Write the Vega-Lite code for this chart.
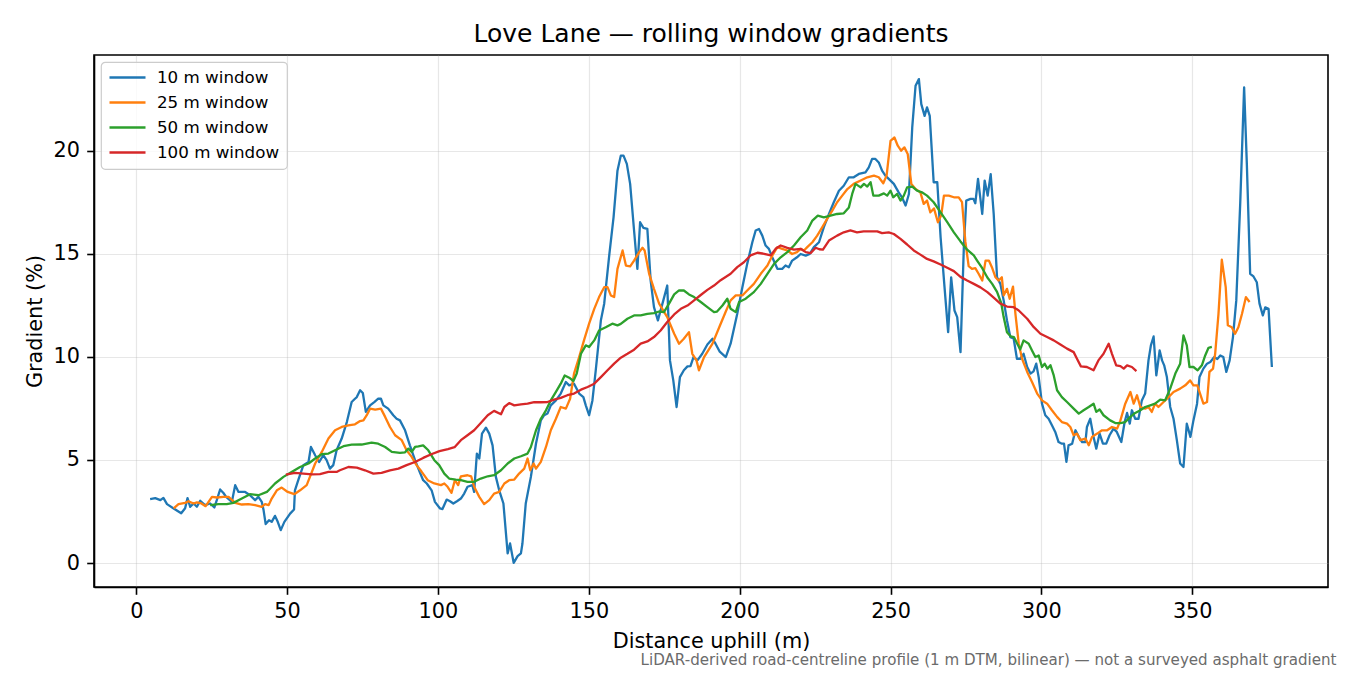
{
"$schema": "https://vega.github.io/schema/vega-lite/v6.json",
"autosize": {"type": "none"},
"width": 1234,
"height": 532,
"padding": {"left": 94, "top": 55, "right": 22, "bottom": 88},
"background": "white",
"title": {"text": "Love Lane — rolling window gradients", "font": "DejaVu Sans", "fontSize": 25, "fontWeight": "normal", "color": "black", "anchor": "middle", "frame": "group", "baseline": "alphabetic", "offset": -12},
"data": {"values": [
{"d":4.6,"g":3.1,"w":"10 m window"},{"d":6.3,"g":3.15,"w":"10 m window"},{"d":8.0,"g":3.05,"w":"10 m window"},{"d":9.0,"g":3.16,"w":"10 m window"},{"d":10.2,"g":2.86,"w":"10 m window"},{"d":12.4,"g":2.65,"w":"10 m window"},{"d":14.9,"g":2.42,"w":"10 m window"},{"d":16.2,"g":2.66,"w":"10 m window"},{"d":17.0,"g":3.15,"w":"10 m window"},{"d":17.9,"g":2.73,"w":"10 m window"},{"d":19.0,"g":2.89,"w":"10 m window"},{"d":20.1,"g":2.73,"w":"10 m window"},{"d":21.2,"g":3.02,"w":"10 m window"},{"d":22.8,"g":2.81,"w":"10 m window"},{"d":24.5,"g":2.89,"w":"10 m window"},{"d":25.9,"g":2.7,"w":"10 m window"},{"d":26.7,"g":3.05,"w":"10 m window"},{"d":27.8,"g":3.57,"w":"10 m window"},{"d":28.9,"g":3.4,"w":"10 m window"},{"d":29.8,"g":3.21,"w":"10 m window"},{"d":31.7,"g":2.97,"w":"10 m window"},{"d":32.8,"g":3.78,"w":"10 m window"},{"d":33.9,"g":3.45,"w":"10 m window"},{"d":36.1,"g":3.45,"w":"10 m window"},{"d":37.7,"g":3.29,"w":"10 m window"},{"d":39.4,"g":3.05,"w":"10 m window"},{"d":40.5,"g":3.21,"w":"10 m window"},{"d":41.6,"g":2.97,"w":"10 m window"},{"d":42.2,"g":2.57,"w":"10 m window"},{"d":42.9,"g":1.89,"w":"10 m window"},{"d":44.0,"g":2.08,"w":"10 m window"},{"d":44.9,"g":2.0,"w":"10 m window"},{"d":46.0,"g":2.29,"w":"10 m window"},{"d":46.9,"g":2.0,"w":"10 m window"},{"d":47.9,"g":1.6,"w":"10 m window"},{"d":49.1,"g":2.0,"w":"10 m window"},{"d":51.0,"g":2.4,"w":"10 m window"},{"d":52.3,"g":2.6,"w":"10 m window"},{"d":52.6,"g":3.53,"w":"10 m window"},{"d":53.7,"g":4.02,"w":"10 m window"},{"d":55.4,"g":4.75,"w":"10 m window"},{"d":57.1,"g":4.9,"w":"10 m window"},{"d":57.9,"g":5.63,"w":"10 m window"},{"d":59.3,"g":5.23,"w":"10 m window"},{"d":60.6,"g":4.9,"w":"10 m window"},{"d":62.0,"g":5.23,"w":"10 m window"},{"d":63.1,"g":4.99,"w":"10 m window"},{"d":64.2,"g":4.58,"w":"10 m window"},{"d":65.3,"g":4.75,"w":"10 m window"},{"d":66.4,"g":5.47,"w":"10 m window"},{"d":68.1,"g":6.04,"w":"10 m window"},{"d":69.8,"g":6.84,"w":"10 m window"},{"d":71.4,"g":7.81,"w":"10 m window"},{"d":72.5,"g":7.97,"w":"10 m window"},{"d":73.1,"g":8.05,"w":"10 m window"},{"d":74.2,"g":8.38,"w":"10 m window"},{"d":75.1,"g":8.25,"w":"10 m window"},{"d":76.1,"g":7.33,"w":"10 m window"},{"d":77.5,"g":7.65,"w":"10 m window"},{"d":78.9,"g":7.81,"w":"10 m window"},{"d":80.2,"g":7.97,"w":"10 m window"},{"d":81.1,"g":7.97,"w":"10 m window"},{"d":81.9,"g":7.65,"w":"10 m window"},{"d":83.5,"g":7.49,"w":"10 m window"},{"d":85.2,"g":7.17,"w":"10 m window"},{"d":86.3,"g":7.0,"w":"10 m window"},{"d":87.4,"g":6.92,"w":"10 m window"},{"d":89.1,"g":6.44,"w":"10 m window"},{"d":90.7,"g":5.71,"w":"10 m window"},{"d":92.4,"g":4.99,"w":"10 m window"},{"d":94.0,"g":4.4,"w":"10 m window"},{"d":95.1,"g":4.02,"w":"10 m window"},{"d":96.3,"g":3.86,"w":"10 m window"},{"d":97.9,"g":3.53,"w":"10 m window"},{"d":99.0,"g":2.97,"w":"10 m window"},{"d":100.7,"g":2.65,"w":"10 m window"},{"d":101.5,"g":2.62,"w":"10 m window"},{"d":102.9,"g":3.08,"w":"10 m window"},{"d":104.0,"g":3.0,"w":"10 m window"},{"d":105.1,"g":2.89,"w":"10 m window"},{"d":106.3,"g":3.0,"w":"10 m window"},{"d":107.6,"g":3.13,"w":"10 m window"},{"d":108.7,"g":3.37,"w":"10 m window"},{"d":109.8,"g":3.7,"w":"10 m window"},{"d":111.4,"g":3.78,"w":"10 m window"},{"d":112.0,"g":3.45,"w":"10 m window"},{"d":112.9,"g":5.31,"w":"10 m window"},{"d":113.7,"g":5.07,"w":"10 m window"},{"d":114.6,"g":6.28,"w":"10 m window"},{"d":115.9,"g":6.57,"w":"10 m window"},{"d":117.0,"g":6.28,"w":"10 m window"},{"d":118.1,"g":5.71,"w":"10 m window"},{"d":119.2,"g":4.18,"w":"10 m window"},{"d":120.3,"g":3.53,"w":"10 m window"},{"d":121.7,"g":2.89,"w":"10 m window"},{"d":123.1,"g":0.47,"w":"10 m window"},{"d":123.9,"g":0.95,"w":"10 m window"},{"d":125.1,"g":0.01,"w":"10 m window"},{"d":126.4,"g":0.34,"w":"10 m window"},{"d":127.5,"g":0.47,"w":"10 m window"},{"d":128.0,"g":0.95,"w":"10 m window"},{"d":129.1,"g":2.89,"w":"10 m window"},{"d":130.8,"g":4.18,"w":"10 m window"},{"d":132.5,"g":5.8,"w":"10 m window"},{"d":134.1,"g":6.92,"w":"10 m window"},{"d":135.2,"g":7.17,"w":"10 m window"},{"d":136.3,"g":7.25,"w":"10 m window"},{"d":137.4,"g":7.65,"w":"10 m window"},{"d":139.1,"g":7.89,"w":"10 m window"},{"d":140.7,"g":8.22,"w":"10 m window"},{"d":142.4,"g":8.78,"w":"10 m window"},{"d":143.5,"g":8.62,"w":"10 m window"},{"d":145.1,"g":8.7,"w":"10 m window"},{"d":146.8,"g":8.22,"w":"10 m window"},{"d":148.2,"g":8.05,"w":"10 m window"},{"d":149.0,"g":7.65,"w":"10 m window"},{"d":150.1,"g":7.17,"w":"10 m window"},{"d":151.2,"g":7.89,"w":"10 m window"},{"d":152.3,"g":9.35,"w":"10 m window"},{"d":154.0,"g":11.77,"w":"10 m window"},{"d":155.1,"g":12.58,"w":"10 m window"},{"d":156.7,"g":14.83,"w":"10 m window"},{"d":158.2,"g":16.77,"w":"10 m window"},{"d":159.5,"g":19.03,"w":"10 m window"},{"d":160.6,"g":19.76,"w":"10 m window"},{"d":161.5,"g":19.76,"w":"10 m window"},{"d":162.6,"g":19.36,"w":"10 m window"},{"d":163.7,"g":18.39,"w":"10 m window"},{"d":165.0,"g":16.13,"w":"10 m window"},{"d":166.1,"g":14.27,"w":"10 m window"},{"d":167.0,"g":16.53,"w":"10 m window"},{"d":168.1,"g":16.26,"w":"10 m window"},{"d":169.4,"g":16.21,"w":"10 m window"},{"d":170.5,"g":13.7,"w":"10 m window"},{"d":171.6,"g":12.41,"w":"10 m window"},{"d":172.9,"g":11.77,"w":"10 m window"},{"d":174.7,"g":12.74,"w":"10 m window"},{"d":176.0,"g":13.46,"w":"10 m window"},{"d":176.9,"g":9.83,"w":"10 m window"},{"d":178.0,"g":8.86,"w":"10 m window"},{"d":179.1,"g":7.57,"w":"10 m window"},{"d":180.2,"g":9.02,"w":"10 m window"},{"d":181.5,"g":9.35,"w":"10 m window"},{"d":182.7,"g":9.54,"w":"10 m window"},{"d":183.7,"g":9.55,"w":"10 m window"},{"d":184.7,"g":9.99,"w":"10 m window"},{"d":186.0,"g":9.83,"w":"10 m window"},{"d":187.6,"g":10.15,"w":"10 m window"},{"d":189.3,"g":10.6,"w":"10 m window"},{"d":191.0,"g":10.88,"w":"10 m window"},{"d":192.0,"g":10.64,"w":"10 m window"},{"d":193.4,"g":10.25,"w":"10 m window"},{"d":195.4,"g":9.99,"w":"10 m window"},{"d":197.0,"g":10.64,"w":"10 m window"},{"d":199.2,"g":12.09,"w":"10 m window"},{"d":200.9,"g":13.38,"w":"10 m window"},{"d":202.5,"g":14.51,"w":"10 m window"},{"d":204.2,"g":15.56,"w":"10 m window"},{"d":205.3,"g":16.13,"w":"10 m window"},{"d":206.4,"g":16.2,"w":"10 m window"},{"d":207.5,"g":15.88,"w":"10 m window"},{"d":208.6,"g":15.4,"w":"10 m window"},{"d":209.7,"g":15.24,"w":"10 m window"},{"d":210.8,"g":14.83,"w":"10 m window"},{"d":212.5,"g":14.27,"w":"10 m window"},{"d":214.1,"g":14.27,"w":"10 m window"},{"d":215.2,"g":14.43,"w":"10 m window"},{"d":216.3,"g":14.35,"w":"10 m window"},{"d":217.4,"g":14.67,"w":"10 m window"},{"d":219.0,"g":14.83,"w":"10 m window"},{"d":220.2,"g":14.99,"w":"10 m window"},{"d":221.9,"g":14.91,"w":"10 m window"},{"d":223.2,"g":14.99,"w":"10 m window"},{"d":224.6,"g":15.32,"w":"10 m window"},{"d":226.3,"g":15.56,"w":"10 m window"},{"d":227.9,"g":16.29,"w":"10 m window"},{"d":229.6,"g":16.93,"w":"10 m window"},{"d":231.2,"g":17.5,"w":"10 m window"},{"d":232.9,"g":18.06,"w":"10 m window"},{"d":234.5,"g":18.3,"w":"10 m window"},{"d":236.2,"g":18.71,"w":"10 m window"},{"d":237.8,"g":18.71,"w":"10 m window"},{"d":239.5,"g":18.87,"w":"10 m window"},{"d":241.7,"g":18.95,"w":"10 m window"},{"d":242.8,"g":19.19,"w":"10 m window"},{"d":243.9,"g":19.6,"w":"10 m window"},{"d":245.0,"g":19.6,"w":"10 m window"},{"d":246.1,"g":19.43,"w":"10 m window"},{"d":247.2,"g":19.03,"w":"10 m window"},{"d":248.3,"g":18.79,"w":"10 m window"},{"d":250.0,"g":18.55,"w":"10 m window"},{"d":251.1,"g":18.39,"w":"10 m window"},{"d":252.7,"g":17.98,"w":"10 m window"},{"d":253.8,"g":17.74,"w":"10 m window"},{"d":255.0,"g":17.34,"w":"10 m window"},{"d":256.1,"g":17.9,"w":"10 m window"},{"d":257.2,"g":21.13,"w":"10 m window"},{"d":258.3,"g":23.15,"w":"10 m window"},{"d":259.4,"g":23.47,"w":"10 m window"},{"d":260.2,"g":22.26,"w":"10 m window"},{"d":261.3,"g":21.69,"w":"10 m window"},{"d":262.1,"g":22.1,"w":"10 m window"},{"d":263.0,"g":21.69,"w":"10 m window"},{"d":264.3,"g":18.47,"w":"10 m window"},{"d":265.5,"g":18.47,"w":"10 m window"},{"d":266.6,"g":15.8,"w":"10 m window"},{"d":267.9,"g":13.38,"w":"10 m window"},{"d":269.1,"g":11.2,"w":"10 m window"},{"d":270.1,"g":13.86,"w":"10 m window"},{"d":271.2,"g":12.25,"w":"10 m window"},{"d":272.1,"g":11.93,"w":"10 m window"},{"d":273.2,"g":10.23,"w":"10 m window"},{"d":274.3,"g":15.32,"w":"10 m window"},{"d":275.1,"g":17.58,"w":"10 m window"},{"d":276.5,"g":17.66,"w":"10 m window"},{"d":277.5,"g":17.66,"w":"10 m window"},{"d":278.1,"g":17.45,"w":"10 m window"},{"d":279.0,"g":18.63,"w":"10 m window"},{"d":280.4,"g":16.93,"w":"10 m window"},{"d":281.2,"g":18.55,"w":"10 m window"},{"d":282.2,"g":17.82,"w":"10 m window"},{"d":283.2,"g":18.86,"w":"10 m window"},{"d":284.2,"g":16.93,"w":"10 m window"},{"d":285.3,"g":13.86,"w":"10 m window"},{"d":286.4,"g":13.54,"w":"10 m window"},{"d":287.5,"g":12.74,"w":"10 m window"},{"d":288.6,"g":11.77,"w":"10 m window"},{"d":289.7,"g":10.96,"w":"10 m window"},{"d":290.8,"g":10.9,"w":"10 m window"},{"d":291.9,"g":9.91,"w":"10 m window"},{"d":293.0,"g":9.91,"w":"10 m window"},{"d":294.1,"g":10.15,"w":"10 m window"},{"d":295.3,"g":9.51,"w":"10 m window"},{"d":296.4,"g":9.19,"w":"10 m window"},{"d":297.4,"g":9.3,"w":"10 m window"},{"d":298.3,"g":9.67,"w":"10 m window"},{"d":299.1,"g":9.02,"w":"10 m window"},{"d":300.2,"g":7.73,"w":"10 m window"},{"d":301.3,"g":7.17,"w":"10 m window"},{"d":302.4,"g":7.0,"w":"10 m window"},{"d":303.5,"g":6.68,"w":"10 m window"},{"d":304.6,"g":6.36,"w":"10 m window"},{"d":305.7,"g":5.87,"w":"10 m window"},{"d":306.8,"g":5.79,"w":"10 m window"},{"d":307.5,"g":5.79,"w":"10 m window"},{"d":308.3,"g":4.91,"w":"10 m window"},{"d":309.0,"g":5.71,"w":"10 m window"},{"d":310.2,"g":5.79,"w":"10 m window"},{"d":311.3,"g":6.44,"w":"10 m window"},{"d":312.4,"g":6.12,"w":"10 m window"},{"d":313.5,"g":5.87,"w":"10 m window"},{"d":314.6,"g":5.87,"w":"10 m window"},{"d":315.1,"g":6.6,"w":"10 m window"},{"d":316.2,"g":7.0,"w":"10 m window"},{"d":317.3,"g":6.12,"w":"10 m window"},{"d":318.2,"g":5.55,"w":"10 m window"},{"d":319.3,"g":6.28,"w":"10 m window"},{"d":320.4,"g":5.79,"w":"10 m window"},{"d":321.5,"g":5.79,"w":"10 m window"},{"d":322.6,"g":6.2,"w":"10 m window"},{"d":323.9,"g":6.52,"w":"10 m window"},{"d":325.0,"g":6.36,"w":"10 m window"},{"d":326.5,"g":5.87,"w":"10 m window"},{"d":327.6,"g":6.84,"w":"10 m window"},{"d":328.4,"g":7.28,"w":"10 m window"},{"d":329.3,"g":6.76,"w":"10 m window"},{"d":330.0,"g":7.41,"w":"10 m window"},{"d":331.1,"g":7.0,"w":"10 m window"},{"d":332.2,"g":7.0,"w":"10 m window"},{"d":333.3,"g":7.89,"w":"10 m window"},{"d":334.4,"g":8.22,"w":"10 m window"},{"d":335.5,"g":9.83,"w":"10 m window"},{"d":336.3,"g":10.56,"w":"10 m window"},{"d":337.2,"g":10.99,"w":"10 m window"},{"d":338.1,"g":9.1,"w":"10 m window"},{"d":339.2,"g":10.31,"w":"10 m window"},{"d":340.0,"g":9.83,"w":"10 m window"},{"d":340.7,"g":9.59,"w":"10 m window"},{"d":341.6,"g":9.02,"w":"10 m window"},{"d":342.7,"g":7.57,"w":"10 m window"},{"d":343.8,"g":7.0,"w":"10 m window"},{"d":344.9,"g":5.96,"w":"10 m window"},{"d":346.0,"g":4.83,"w":"10 m window"},{"d":347.1,"g":4.66,"w":"10 m window"},{"d":348.2,"g":6.76,"w":"10 m window"},{"d":349.4,"g":6.12,"w":"10 m window"},{"d":350.4,"g":6.92,"w":"10 m window"},{"d":351.6,"g":7.73,"w":"10 m window"},{"d":352.4,"g":9.02,"w":"10 m window"},{"d":353.7,"g":9.43,"w":"10 m window"},{"d":354.9,"g":9.67,"w":"10 m window"},{"d":356.0,"g":9.75,"w":"10 m window"},{"d":357.3,"g":9.99,"w":"10 m window"},{"d":358.3,"g":9.9,"w":"10 m window"},{"d":359.3,"g":10.07,"w":"10 m window"},{"d":360.3,"g":9.99,"w":"10 m window"},{"d":361.3,"g":9.27,"w":"10 m window"},{"d":362.4,"g":9.83,"w":"10 m window"},{"d":363.5,"g":10.96,"w":"10 m window"},{"d":364.6,"g":12.74,"w":"10 m window"},{"d":365.9,"g":17.42,"w":"10 m window"},{"d":367.2,"g":23.07,"w":"10 m window"},{"d":368.1,"g":19.36,"w":"10 m window"},{"d":369.2,"g":14.03,"w":"10 m window"},{"d":370.3,"g":13.9,"w":"10 m window"},{"d":371.4,"g":13.62,"w":"10 m window"},{"d":372.3,"g":12.58,"w":"10 m window"},{"d":373.4,"g":12.01,"w":"10 m window"},{"d":374.2,"g":12.4,"w":"10 m window"},{"d":375.3,"g":12.33,"w":"10 m window"},{"d":376.4,"g":9.51,"w":"10 m window"},
{"d":12.4,"g":2.65,"w":"25 m window"},{"d":14.0,"g":2.86,"w":"25 m window"},{"d":16.2,"g":2.92,"w":"25 m window"},{"d":17.3,"g":3.0,"w":"25 m window"},{"d":19.0,"g":2.89,"w":"25 m window"},{"d":20.1,"g":2.94,"w":"25 m window"},{"d":21.6,"g":2.89,"w":"25 m window"},{"d":23.0,"g":2.76,"w":"25 m window"},{"d":25.1,"g":3.21,"w":"25 m window"},{"d":26.7,"g":3.18,"w":"25 m window"},{"d":28.9,"g":3.21,"w":"25 m window"},{"d":30.6,"g":3.21,"w":"25 m window"},{"d":32.8,"g":2.92,"w":"25 m window"},{"d":35.0,"g":2.84,"w":"25 m window"},{"d":37.2,"g":2.86,"w":"25 m window"},{"d":39.4,"g":2.81,"w":"25 m window"},{"d":41.6,"g":2.73,"w":"25 m window"},{"d":42.7,"g":2.86,"w":"25 m window"},{"d":43.9,"g":2.81,"w":"25 m window"},{"d":44.9,"g":3.13,"w":"25 m window"},{"d":46.6,"g":3.53,"w":"25 m window"},{"d":48.2,"g":3.66,"w":"25 m window"},{"d":50.2,"g":3.45,"w":"25 m window"},{"d":52.4,"g":3.34,"w":"25 m window"},{"d":54.3,"g":3.53,"w":"25 m window"},{"d":56.5,"g":3.78,"w":"25 m window"},{"d":59.3,"g":4.83,"w":"25 m window"},{"d":61.5,"g":5.39,"w":"25 m window"},{"d":63.7,"g":6.04,"w":"25 m window"},{"d":65.9,"g":6.44,"w":"25 m window"},{"d":68.1,"g":6.6,"w":"25 m window"},{"d":70.3,"g":6.68,"w":"25 m window"},{"d":72.5,"g":6.73,"w":"25 m window"},{"d":74.2,"g":6.89,"w":"25 m window"},{"d":75.3,"g":6.92,"w":"25 m window"},{"d":76.4,"g":7.17,"w":"25 m window"},{"d":77.5,"g":7.49,"w":"25 m window"},{"d":79.2,"g":7.44,"w":"25 m window"},{"d":81.1,"g":7.49,"w":"25 m window"},{"d":82.5,"g":7.09,"w":"25 m window"},{"d":84.1,"g":6.6,"w":"25 m window"},{"d":85.8,"g":6.2,"w":"25 m window"},{"d":88.0,"g":5.96,"w":"25 m window"},{"d":89.6,"g":5.47,"w":"25 m window"},{"d":91.3,"g":5.15,"w":"25 m window"},{"d":92.9,"g":4.75,"w":"25 m window"},{"d":94.5,"g":4.45,"w":"25 m window"},{"d":96.6,"g":4.02,"w":"25 m window"},{"d":98.8,"g":3.86,"w":"25 m window"},{"d":101.0,"g":3.78,"w":"25 m window"},{"d":102.1,"g":3.86,"w":"25 m window"},{"d":103.2,"g":3.7,"w":"25 m window"},{"d":104.5,"g":3.41,"w":"25 m window"},{"d":105.6,"g":4.02,"w":"25 m window"},{"d":106.7,"g":3.78,"w":"25 m window"},{"d":107.6,"g":4.21,"w":"25 m window"},{"d":109.8,"g":4.26,"w":"25 m window"},{"d":111.0,"g":4.21,"w":"25 m window"},{"d":112.0,"g":3.7,"w":"25 m window"},{"d":113.7,"g":3.21,"w":"25 m window"},{"d":115.3,"g":2.86,"w":"25 m window"},{"d":117.0,"g":3.05,"w":"25 m window"},{"d":118.6,"g":3.37,"w":"25 m window"},{"d":120.3,"g":3.45,"w":"25 m window"},{"d":122.0,"g":3.86,"w":"25 m window"},{"d":123.6,"g":4.02,"w":"25 m window"},{"d":125.3,"g":4.05,"w":"25 m window"},{"d":126.9,"g":4.34,"w":"25 m window"},{"d":128.6,"g":4.58,"w":"25 m window"},{"d":129.7,"g":5.07,"w":"25 m window"},{"d":130.6,"g":4.5,"w":"25 m window"},{"d":131.7,"g":4.83,"w":"25 m window"},{"d":132.5,"g":4.58,"w":"25 m window"},{"d":134.1,"g":4.91,"w":"25 m window"},{"d":135.8,"g":5.63,"w":"25 m window"},{"d":137.4,"g":6.44,"w":"25 m window"},{"d":139.1,"g":7.0,"w":"25 m window"},{"d":140.7,"g":7.57,"w":"25 m window"},{"d":142.4,"g":7.49,"w":"25 m window"},{"d":143.8,"g":7.97,"w":"25 m window"},{"d":145.1,"g":9.19,"w":"25 m window"},{"d":146.8,"g":9.99,"w":"25 m window"},{"d":148.4,"g":10.8,"w":"25 m window"},{"d":150.1,"g":11.61,"w":"25 m window"},{"d":151.8,"g":12.33,"w":"25 m window"},{"d":153.4,"g":12.9,"w":"25 m window"},{"d":155.1,"g":13.38,"w":"25 m window"},{"d":156.2,"g":13.38,"w":"25 m window"},{"d":157.3,"g":12.98,"w":"25 m window"},{"d":158.4,"g":12.9,"w":"25 m window"},{"d":159.5,"g":14.27,"w":"25 m window"},{"d":161.2,"g":15.16,"w":"25 m window"},{"d":162.3,"g":14.43,"w":"25 m window"},{"d":163.7,"g":14.39,"w":"25 m window"},{"d":165.0,"g":14.67,"w":"25 m window"},{"d":166.7,"g":15.08,"w":"25 m window"},{"d":167.8,"g":15.29,"w":"25 m window"},{"d":168.5,"g":15.16,"w":"25 m window"},{"d":170.0,"g":14.03,"w":"25 m window"},{"d":171.6,"g":13.3,"w":"25 m window"},{"d":173.3,"g":12.58,"w":"25 m window"},{"d":176.0,"g":11.93,"w":"25 m window"},{"d":178.3,"g":11.12,"w":"25 m window"},{"d":179.9,"g":10.64,"w":"25 m window"},{"d":181.5,"g":10.88,"w":"25 m window"},{"d":183.2,"g":11.2,"w":"25 m window"},{"d":184.3,"g":10.15,"w":"25 m window"},{"d":185.7,"g":9.83,"w":"25 m window"},{"d":186.5,"g":9.35,"w":"25 m window"},{"d":188.2,"g":9.99,"w":"25 m window"},{"d":191.0,"g":10.64,"w":"25 m window"},{"d":193.4,"g":11.5,"w":"25 m window"},{"d":195.4,"g":12.2,"w":"25 m window"},{"d":197.0,"g":12.74,"w":"25 m window"},{"d":198.7,"g":12.98,"w":"25 m window"},{"d":200.9,"g":12.98,"w":"25 m window"},{"d":202.5,"g":13.22,"w":"25 m window"},{"d":204.7,"g":13.54,"w":"25 m window"},{"d":207.0,"g":14.03,"w":"25 m window"},{"d":209.2,"g":14.43,"w":"25 m window"},{"d":210.8,"g":14.91,"w":"25 m window"},{"d":212.5,"g":15.32,"w":"25 m window"},{"d":214.1,"g":15.24,"w":"25 m window"},{"d":215.8,"g":15.16,"w":"25 m window"},{"d":217.4,"g":14.99,"w":"25 m window"},{"d":219.0,"g":15.08,"w":"25 m window"},{"d":220.2,"g":15.24,"w":"25 m window"},{"d":221.3,"g":15.16,"w":"25 m window"},{"d":222.4,"g":15.32,"w":"25 m window"},{"d":224.1,"g":15.56,"w":"25 m window"},{"d":225.7,"g":15.88,"w":"25 m window"},{"d":227.4,"g":16.29,"w":"25 m window"},{"d":229.0,"g":16.69,"w":"25 m window"},{"d":230.7,"g":17.09,"w":"25 m window"},{"d":232.3,"g":17.5,"w":"25 m window"},{"d":234.0,"g":17.82,"w":"25 m window"},{"d":235.7,"g":18.14,"w":"25 m window"},{"d":237.8,"g":18.39,"w":"25 m window"},{"d":240.1,"g":18.55,"w":"25 m window"},{"d":242.3,"g":18.71,"w":"25 m window"},{"d":244.5,"g":18.79,"w":"25 m window"},{"d":246.1,"g":18.71,"w":"25 m window"},{"d":247.6,"g":18.42,"w":"25 m window"},{"d":248.7,"g":18.79,"w":"25 m window"},{"d":250.0,"g":20.48,"w":"25 m window"},{"d":251.3,"g":20.64,"w":"25 m window"},{"d":252.4,"g":20.24,"w":"25 m window"},{"d":253.5,"g":20.0,"w":"25 m window"},{"d":254.6,"g":20.16,"w":"25 m window"},{"d":255.7,"g":19.84,"w":"25 m window"},{"d":256.9,"g":18.39,"w":"25 m window"},{"d":258.3,"g":18.14,"w":"25 m window"},{"d":259.9,"g":17.98,"w":"25 m window"},{"d":261.0,"g":17.42,"w":"25 m window"},{"d":262.1,"g":17.58,"w":"25 m window"},{"d":263.2,"g":17.01,"w":"25 m window"},{"d":264.4,"g":17.2,"w":"25 m window"},{"d":265.7,"g":16.53,"w":"25 m window"},{"d":266.8,"g":16.87,"w":"25 m window"},{"d":267.7,"g":17.82,"w":"25 m window"},{"d":269.3,"g":17.82,"w":"25 m window"},{"d":271.0,"g":17.74,"w":"25 m window"},{"d":272.6,"g":17.74,"w":"25 m window"},{"d":273.7,"g":17.5,"w":"25 m window"},{"d":274.8,"g":15.6,"w":"25 m window"},{"d":275.9,"g":14.4,"w":"25 m window"},{"d":277.0,"g":14.27,"w":"25 m window"},{"d":278.1,"g":14.3,"w":"25 m window"},{"d":279.2,"g":14.03,"w":"25 m window"},{"d":280.4,"g":13.7,"w":"25 m window"},{"d":281.5,"g":14.67,"w":"25 m window"},{"d":282.6,"g":14.67,"w":"25 m window"},{"d":283.6,"g":14.35,"w":"25 m window"},{"d":284.8,"g":13.86,"w":"25 m window"},{"d":285.8,"g":13.7,"w":"25 m window"},{"d":286.9,"g":13.86,"w":"25 m window"},{"d":287.5,"g":12.98,"w":"25 m window"},{"d":288.6,"g":13.3,"w":"25 m window"},{"d":289.5,"g":12.82,"w":"25 m window"},{"d":290.6,"g":13.41,"w":"25 m window"},{"d":291.4,"g":12.09,"w":"25 m window"},{"d":292.5,"g":10.64,"w":"25 m window"},{"d":293.6,"g":9.91,"w":"25 m window"},{"d":295.3,"g":9.27,"w":"25 m window"},{"d":296.9,"g":8.78,"w":"25 m window"},{"d":298.6,"g":8.22,"w":"25 m window"},{"d":300.2,"g":7.89,"w":"25 m window"},{"d":301.9,"g":7.73,"w":"25 m window"},{"d":303.5,"g":7.41,"w":"25 m window"},{"d":305.2,"g":7.09,"w":"25 m window"},{"d":306.8,"g":6.84,"w":"25 m window"},{"d":308.5,"g":6.76,"w":"25 m window"},{"d":309.6,"g":6.6,"w":"25 m window"},{"d":310.7,"g":6.2,"w":"25 m window"},{"d":311.8,"g":6.28,"w":"25 m window"},{"d":312.9,"g":5.96,"w":"25 m window"},{"d":314.6,"g":6.04,"w":"25 m window"},{"d":315.7,"g":5.71,"w":"25 m window"},{"d":316.8,"g":6.12,"w":"25 m window"},{"d":318.5,"g":6.28,"w":"25 m window"},{"d":320.1,"g":6.44,"w":"25 m window"},{"d":321.8,"g":6.44,"w":"25 m window"},{"d":323.4,"g":6.6,"w":"25 m window"},{"d":325.1,"g":6.52,"w":"25 m window"},{"d":326.2,"g":6.92,"w":"25 m window"},{"d":327.8,"g":7.73,"w":"25 m window"},{"d":329.5,"g":8.3,"w":"25 m window"},{"d":330.6,"g":7.73,"w":"25 m window"},{"d":331.7,"g":8.14,"w":"25 m window"},{"d":332.8,"g":7.57,"w":"25 m window"},{"d":334.4,"g":7.49,"w":"25 m window"},{"d":335.5,"g":7.57,"w":"25 m window"},{"d":336.6,"g":7.33,"w":"25 m window"},{"d":337.7,"g":7.73,"w":"25 m window"},{"d":338.8,"g":7.57,"w":"25 m window"},{"d":340.5,"g":7.81,"w":"25 m window"},{"d":342.2,"g":8.05,"w":"25 m window"},{"d":343.8,"g":8.3,"w":"25 m window"},{"d":346.0,"g":8.46,"w":"25 m window"},{"d":347.7,"g":8.62,"w":"25 m window"},{"d":349.3,"g":8.86,"w":"25 m window"},{"d":350.4,"g":8.62,"w":"25 m window"},{"d":351.7,"g":8.62,"w":"25 m window"},{"d":352.6,"g":8.22,"w":"25 m window"},{"d":353.7,"g":7.73,"w":"25 m window"},{"d":354.9,"g":7.81,"w":"25 m window"},{"d":355.7,"g":9.27,"w":"25 m window"},{"d":356.9,"g":9.43,"w":"25 m window"},{"d":357.6,"g":10.15,"w":"25 m window"},{"d":358.7,"g":12.09,"w":"25 m window"},{"d":359.8,"g":14.71,"w":"25 m window"},{"d":361.1,"g":13.38,"w":"25 m window"},{"d":361.8,"g":11.53,"w":"25 m window"},{"d":363.1,"g":11.44,"w":"25 m window"},{"d":364.2,"g":11.12,"w":"25 m window"},{"d":365.3,"g":11.44,"w":"25 m window"},{"d":366.5,"g":12.09,"w":"25 m window"},{"d":367.8,"g":12.9,"w":"25 m window"},{"d":369.0,"g":12.66,"w":"25 m window"},
{"d":24.5,"g":2.81,"w":"50 m window"},{"d":27.2,"g":2.86,"w":"50 m window"},{"d":30.0,"g":2.86,"w":"50 m window"},{"d":32.2,"g":2.92,"w":"50 m window"},{"d":35.0,"g":3.13,"w":"50 m window"},{"d":37.7,"g":3.34,"w":"50 m window"},{"d":40.5,"g":3.29,"w":"50 m window"},{"d":43.3,"g":3.45,"w":"50 m window"},{"d":46.0,"g":3.86,"w":"50 m window"},{"d":48.8,"g":4.18,"w":"50 m window"},{"d":51.5,"g":4.42,"w":"50 m window"},{"d":54.3,"g":4.66,"w":"50 m window"},{"d":57.1,"g":4.83,"w":"50 m window"},{"d":59.3,"g":5.07,"w":"50 m window"},{"d":61.5,"g":5.28,"w":"50 m window"},{"d":63.7,"g":5.31,"w":"50 m window"},{"d":65.9,"g":5.47,"w":"50 m window"},{"d":68.7,"g":5.67,"w":"50 m window"},{"d":71.4,"g":5.74,"w":"50 m window"},{"d":74.7,"g":5.75,"w":"50 m window"},{"d":78.0,"g":5.84,"w":"50 m window"},{"d":80.2,"g":5.79,"w":"50 m window"},{"d":82.5,"g":5.63,"w":"50 m window"},{"d":84.7,"g":5.39,"w":"50 m window"},{"d":87.4,"g":5.34,"w":"50 m window"},{"d":89.1,"g":5.37,"w":"50 m window"},{"d":90.2,"g":5.55,"w":"50 m window"},{"d":91.3,"g":5.39,"w":"50 m window"},{"d":92.4,"g":5.63,"w":"50 m window"},{"d":93.5,"g":5.66,"w":"50 m window"},{"d":95.1,"g":5.71,"w":"50 m window"},{"d":96.8,"g":5.47,"w":"50 m window"},{"d":98.8,"g":4.99,"w":"50 m window"},{"d":100.4,"g":4.75,"w":"50 m window"},{"d":102.1,"g":4.34,"w":"50 m window"},{"d":103.7,"g":4.1,"w":"50 m window"},{"d":105.9,"g":4.05,"w":"50 m window"},{"d":107.6,"g":4.02,"w":"50 m window"},{"d":109.8,"g":3.94,"w":"50 m window"},{"d":112.0,"g":3.94,"w":"50 m window"},{"d":114.2,"g":4.1,"w":"50 m window"},{"d":116.5,"g":4.21,"w":"50 m window"},{"d":118.6,"g":4.26,"w":"50 m window"},{"d":120.9,"g":4.5,"w":"50 m window"},{"d":123.1,"g":4.83,"w":"50 m window"},{"d":125.3,"g":5.07,"w":"50 m window"},{"d":127.5,"g":5.18,"w":"50 m window"},{"d":129.7,"g":5.31,"w":"50 m window"},{"d":130.8,"g":5.63,"w":"50 m window"},{"d":132.5,"g":6.44,"w":"50 m window"},{"d":134.1,"g":7.0,"w":"50 m window"},{"d":135.8,"g":7.41,"w":"50 m window"},{"d":137.4,"g":7.89,"w":"50 m window"},{"d":139.1,"g":8.3,"w":"50 m window"},{"d":140.7,"g":8.7,"w":"50 m window"},{"d":142.0,"g":9.1,"w":"50 m window"},{"d":143.5,"g":8.99,"w":"50 m window"},{"d":144.9,"g":8.83,"w":"50 m window"},{"d":146.0,"g":9.19,"w":"50 m window"},{"d":147.4,"g":10.15,"w":"50 m window"},{"d":149.0,"g":10.56,"w":"50 m window"},{"d":150.1,"g":10.48,"w":"50 m window"},{"d":151.8,"g":10.8,"w":"50 m window"},{"d":153.4,"g":11.28,"w":"50 m window"},{"d":155.6,"g":11.44,"w":"50 m window"},{"d":157.8,"g":11.61,"w":"50 m window"},{"d":159.5,"g":11.53,"w":"50 m window"},{"d":160.6,"g":11.6,"w":"50 m window"},{"d":162.8,"g":11.85,"w":"50 m window"},{"d":165.0,"g":12.01,"w":"50 m window"},{"d":167.2,"g":12.01,"w":"50 m window"},{"d":169.4,"g":12.09,"w":"50 m window"},{"d":171.6,"g":12.12,"w":"50 m window"},{"d":173.3,"g":12.2,"w":"50 m window"},{"d":174.9,"g":12.17,"w":"50 m window"},{"d":176.6,"g":12.58,"w":"50 m window"},{"d":178.3,"g":13.03,"w":"50 m window"},{"d":179.9,"g":13.22,"w":"50 m window"},{"d":181.5,"g":13.22,"w":"50 m window"},{"d":183.2,"g":13.03,"w":"50 m window"},{"d":184.9,"g":12.9,"w":"50 m window"},{"d":187.1,"g":12.66,"w":"50 m window"},{"d":189.3,"g":12.41,"w":"50 m window"},{"d":191.5,"g":12.17,"w":"50 m window"},{"d":192.5,"g":12.2,"w":"50 m window"},{"d":194.3,"g":12.49,"w":"50 m window"},{"d":195.9,"g":12.82,"w":"50 m window"},{"d":197.0,"g":12.33,"w":"50 m window"},{"d":198.7,"g":12.17,"w":"50 m window"},{"d":199.8,"g":12.66,"w":"50 m window"},{"d":202.0,"g":12.82,"w":"50 m window"},{"d":204.7,"g":13.14,"w":"50 m window"},{"d":207.0,"g":13.54,"w":"50 m window"},{"d":209.2,"g":14.03,"w":"50 m window"},{"d":211.4,"g":14.51,"w":"50 m window"},{"d":213.6,"g":14.83,"w":"50 m window"},{"d":215.8,"g":15.08,"w":"50 m window"},{"d":218.0,"g":15.4,"w":"50 m window"},{"d":220.2,"g":15.8,"w":"50 m window"},{"d":222.4,"g":16.13,"w":"50 m window"},{"d":224.1,"g":16.61,"w":"50 m window"},{"d":225.9,"g":16.85,"w":"50 m window"},{"d":227.9,"g":16.77,"w":"50 m window"},{"d":230.1,"g":16.85,"w":"50 m window"},{"d":232.3,"g":16.93,"w":"50 m window"},{"d":234.5,"g":16.96,"w":"50 m window"},{"d":236.2,"g":17.25,"w":"50 m window"},{"d":237.3,"g":17.9,"w":"50 m window"},{"d":238.4,"g":18.39,"w":"50 m window"},{"d":240.1,"g":18.22,"w":"50 m window"},{"d":241.2,"g":18.39,"w":"50 m window"},{"d":242.3,"g":18.26,"w":"50 m window"},{"d":243.4,"g":18.47,"w":"50 m window"},{"d":244.3,"g":17.82,"w":"50 m window"},{"d":246.1,"g":17.82,"w":"50 m window"},{"d":247.8,"g":17.93,"w":"50 m window"},{"d":248.9,"g":17.82,"w":"50 m window"},{"d":250.0,"g":18.06,"w":"50 m window"},{"d":250.9,"g":17.74,"w":"50 m window"},{"d":252.2,"g":17.9,"w":"50 m window"},{"d":253.3,"g":17.58,"w":"50 m window"},{"d":254.4,"g":17.82,"w":"50 m window"},{"d":255.5,"g":18.22,"w":"50 m window"},{"d":257.2,"g":18.26,"w":"50 m window"},{"d":258.8,"g":18.06,"w":"50 m window"},{"d":260.4,"g":17.98,"w":"50 m window"},{"d":262.1,"g":17.82,"w":"50 m window"},{"d":264.3,"g":17.5,"w":"50 m window"},{"d":266.6,"g":17.01,"w":"50 m window"},{"d":268.8,"g":16.53,"w":"50 m window"},{"d":271.0,"g":16.04,"w":"50 m window"},{"d":273.2,"g":15.6,"w":"50 m window"},{"d":275.4,"g":15.2,"w":"50 m window"},{"d":277.6,"g":14.92,"w":"50 m window"},{"d":278.7,"g":14.67,"w":"50 m window"},{"d":280.4,"g":14.3,"w":"50 m window"},{"d":282.1,"g":13.85,"w":"50 m window"},{"d":283.7,"g":13.54,"w":"50 m window"},{"d":285.3,"g":13.15,"w":"50 m window"},{"d":286.7,"g":12.6,"w":"50 m window"},{"d":287.5,"g":11.93,"w":"50 m window"},{"d":288.6,"g":11.2,"w":"50 m window"},{"d":289.8,"g":11.0,"w":"50 m window"},{"d":290.9,"g":10.96,"w":"50 m window"},{"d":292.0,"g":10.64,"w":"50 m window"},{"d":293.0,"g":10.36,"w":"50 m window"},{"d":294.1,"g":10.8,"w":"50 m window"},{"d":295.8,"g":10.64,"w":"50 m window"},{"d":296.9,"g":10.31,"w":"50 m window"},{"d":298.0,"g":9.99,"w":"50 m window"},{"d":299.1,"g":10.07,"w":"50 m window"},{"d":300.2,"g":9.51,"w":"50 m window"},{"d":301.1,"g":9.67,"w":"50 m window"},{"d":302.0,"g":9.43,"w":"50 m window"},{"d":303.0,"g":9.6,"w":"50 m window"},{"d":304.1,"g":9.1,"w":"50 m window"},{"d":305.2,"g":8.38,"w":"50 m window"},{"d":306.8,"g":8.05,"w":"50 m window"},{"d":308.5,"g":7.81,"w":"50 m window"},{"d":310.7,"g":7.49,"w":"50 m window"},{"d":312.4,"g":7.25,"w":"50 m window"},{"d":314.0,"g":7.41,"w":"50 m window"},{"d":315.7,"g":7.57,"w":"50 m window"},{"d":317.3,"g":7.73,"w":"50 m window"},{"d":318.2,"g":7.33,"w":"50 m window"},{"d":319.3,"g":7.45,"w":"50 m window"},{"d":320.6,"g":7.17,"w":"50 m window"},{"d":322.8,"g":6.92,"w":"50 m window"},{"d":324.5,"g":6.79,"w":"50 m window"},{"d":326.2,"g":6.79,"w":"50 m window"},{"d":327.8,"g":6.84,"w":"50 m window"},{"d":329.5,"g":7.09,"w":"50 m window"},{"d":331.1,"g":7.28,"w":"50 m window"},{"d":332.8,"g":7.41,"w":"50 m window"},{"d":334.4,"g":7.57,"w":"50 m window"},{"d":336.1,"g":7.65,"w":"50 m window"},{"d":337.7,"g":7.73,"w":"50 m window"},{"d":339.4,"g":7.93,"w":"50 m window"},{"d":341.0,"g":7.89,"w":"50 m window"},{"d":342.7,"g":8.46,"w":"50 m window"},{"d":344.4,"g":9.19,"w":"50 m window"},{"d":346.0,"g":9.67,"w":"50 m window"},{"d":347.1,"g":11.04,"w":"50 m window"},{"d":348.2,"g":10.56,"w":"50 m window"},{"d":349.1,"g":9.51,"w":"50 m window"},{"d":350.4,"g":9.51,"w":"50 m window"},{"d":351.8,"g":9.35,"w":"50 m window"},{"d":353.2,"g":9.59,"w":"50 m window"},{"d":354.3,"g":10.07,"w":"50 m window"},{"d":355.4,"g":10.44,"w":"50 m window"},{"d":356.5,"g":10.48,"w":"50 m window"},
{"d":49.6,"g":4.29,"w":"100 m window"},{"d":52.6,"g":4.37,"w":"100 m window"},{"d":55.4,"g":4.34,"w":"100 m window"},{"d":58.2,"g":4.3,"w":"100 m window"},{"d":60.9,"g":4.31,"w":"100 m window"},{"d":63.7,"g":4.42,"w":"100 m window"},{"d":66.4,"g":4.42,"w":"100 m window"},{"d":67.5,"g":4.5,"w":"100 m window"},{"d":70.3,"g":4.66,"w":"100 m window"},{"d":73.1,"g":4.63,"w":"100 m window"},{"d":75.8,"g":4.5,"w":"100 m window"},{"d":78.6,"g":4.34,"w":"100 m window"},{"d":81.3,"g":4.37,"w":"100 m window"},{"d":84.1,"g":4.5,"w":"100 m window"},{"d":86.9,"g":4.58,"w":"100 m window"},{"d":89.6,"g":4.75,"w":"100 m window"},{"d":92.4,"g":4.9,"w":"100 m window"},{"d":95.1,"g":5.1,"w":"100 m window"},{"d":97.8,"g":5.28,"w":"100 m window"},{"d":100.5,"g":5.43,"w":"100 m window"},{"d":103.3,"g":5.53,"w":"100 m window"},{"d":105.5,"g":5.62,"w":"100 m window"},{"d":107.6,"g":5.96,"w":"100 m window"},{"d":109.8,"g":6.2,"w":"100 m window"},{"d":112.0,"g":6.44,"w":"100 m window"},{"d":114.2,"g":6.79,"w":"100 m window"},{"d":116.5,"g":7.17,"w":"100 m window"},{"d":118.6,"g":7.38,"w":"100 m window"},{"d":120.9,"g":7.22,"w":"100 m window"},{"d":122.0,"g":7.57,"w":"100 m window"},{"d":123.6,"g":7.76,"w":"100 m window"},{"d":125.3,"g":7.65,"w":"100 m window"},{"d":127.5,"g":7.7,"w":"100 m window"},{"d":129.7,"g":7.73,"w":"100 m window"},{"d":131.9,"g":7.81,"w":"100 m window"},{"d":134.1,"g":7.8,"w":"100 m window"},{"d":136.3,"g":7.81,"w":"100 m window"},{"d":138.5,"g":7.93,"w":"100 m window"},{"d":140.7,"g":8.01,"w":"100 m window"},{"d":142.9,"g":8.14,"w":"100 m window"},{"d":145.1,"g":8.22,"w":"100 m window"},{"d":147.4,"g":8.41,"w":"100 m window"},{"d":149.6,"g":8.54,"w":"100 m window"},{"d":151.8,"g":8.7,"w":"100 m window"},{"d":154.0,"g":9.02,"w":"100 m window"},{"d":156.2,"g":9.35,"w":"100 m window"},{"d":158.4,"g":9.67,"w":"100 m window"},{"d":160.6,"g":9.96,"w":"100 m window"},{"d":162.8,"g":10.15,"w":"100 m window"},{"d":165.0,"g":10.35,"w":"100 m window"},{"d":167.2,"g":10.64,"w":"100 m window"},{"d":169.4,"g":10.75,"w":"100 m window"},{"d":171.6,"g":10.96,"w":"100 m window"},{"d":173.8,"g":11.28,"w":"100 m window"},{"d":176.0,"g":11.69,"w":"100 m window"},{"d":178.3,"g":12.06,"w":"100 m window"},{"d":180.5,"g":12.33,"w":"100 m window"},{"d":182.7,"g":12.49,"w":"100 m window"},{"d":184.9,"g":12.74,"w":"100 m window"},{"d":187.1,"g":13.0,"w":"100 m window"},{"d":189.3,"g":13.25,"w":"100 m window"},{"d":191.5,"g":13.46,"w":"100 m window"},{"d":193.7,"g":13.72,"w":"100 m window"},{"d":197.0,"g":14.03,"w":"100 m window"},{"d":199.2,"g":14.35,"w":"100 m window"},{"d":201.4,"g":14.59,"w":"100 m window"},{"d":203.6,"g":14.92,"w":"100 m window"},{"d":205.9,"g":15.05,"w":"100 m window"},{"d":208.1,"g":15.0,"w":"100 m window"},{"d":210.3,"g":14.92,"w":"100 m window"},{"d":211.9,"g":15.24,"w":"100 m window"},{"d":213.6,"g":15.4,"w":"100 m window"},{"d":215.8,"g":15.29,"w":"100 m window"},{"d":218.0,"g":15.2,"w":"100 m window"},{"d":220.2,"g":15.24,"w":"100 m window"},{"d":221.9,"g":15.08,"w":"100 m window"},{"d":223.5,"g":15.03,"w":"100 m window"},{"d":225.2,"g":15.29,"w":"100 m window"},{"d":226.4,"g":15.22,"w":"100 m window"},{"d":227.6,"g":15.2,"w":"100 m window"},{"d":229.6,"g":15.64,"w":"100 m window"},{"d":232.3,"g":15.88,"w":"100 m window"},{"d":234.5,"g":16.04,"w":"100 m window"},{"d":236.7,"g":16.13,"w":"100 m window"},{"d":238.9,"g":16.04,"w":"100 m window"},{"d":241.1,"g":16.09,"w":"100 m window"},{"d":243.4,"g":16.09,"w":"100 m window"},{"d":245.6,"g":16.09,"w":"100 m window"},{"d":247.2,"g":16.0,"w":"100 m window"},{"d":249.4,"g":16.04,"w":"100 m window"},{"d":251.1,"g":15.96,"w":"100 m window"},{"d":253.3,"g":15.72,"w":"100 m window"},{"d":255.5,"g":15.45,"w":"100 m window"},{"d":257.7,"g":15.16,"w":"100 m window"},{"d":259.9,"g":14.96,"w":"100 m window"},{"d":262.1,"g":14.75,"w":"100 m window"},{"d":264.3,"g":14.63,"w":"100 m window"},{"d":266.6,"g":14.48,"w":"100 m window"},{"d":268.8,"g":14.32,"w":"100 m window"},{"d":271.0,"g":14.16,"w":"100 m window"},{"d":273.2,"g":13.88,"w":"100 m window"},{"d":275.4,"g":13.7,"w":"100 m window"},{"d":277.6,"g":13.54,"w":"100 m window"},{"d":279.8,"g":13.37,"w":"100 m window"},{"d":282.1,"g":13.14,"w":"100 m window"},{"d":284.2,"g":12.87,"w":"100 m window"},{"d":286.4,"g":12.58,"w":"100 m window"},{"d":288.6,"g":12.44,"w":"100 m window"},{"d":290.8,"g":12.41,"w":"100 m window"},{"d":292.5,"g":12.25,"w":"100 m window"},{"d":293.6,"g":12.09,"w":"100 m window"},{"d":295.3,"g":11.85,"w":"100 m window"},{"d":297.5,"g":11.44,"w":"100 m window"},{"d":299.7,"g":11.12,"w":"100 m window"},{"d":301.9,"g":10.96,"w":"100 m window"},{"d":304.1,"g":10.8,"w":"100 m window"},{"d":306.3,"g":10.6,"w":"100 m window"},{"d":308.5,"g":10.4,"w":"100 m window"},{"d":310.7,"g":10.23,"w":"100 m window"},{"d":311.8,"g":9.91,"w":"100 m window"},{"d":313.1,"g":9.54,"w":"100 m window"},{"d":315.1,"g":9.51,"w":"100 m window"},{"d":317.3,"g":9.35,"w":"100 m window"},{"d":318.9,"g":9.83,"w":"100 m window"},{"d":320.6,"g":10.15,"w":"100 m window"},{"d":322.3,"g":10.64,"w":"100 m window"},{"d":323.4,"g":10.15,"w":"100 m window"},{"d":324.8,"g":9.59,"w":"100 m window"},{"d":326.2,"g":9.55,"w":"100 m window"},{"d":327.3,"g":9.43,"w":"100 m window"},{"d":328.4,"g":9.59,"w":"100 m window"},{"d":330.0,"g":9.51,"w":"100 m window"},{"d":331.5,"g":9.31,"w":"100 m window"}
]},
"layer": [
{"transform": [{"filter": "datum.w === '10 m window'"}],
 "mark": {"type": "line", "strokeWidth": 2.3, "strokeJoin": "round"},
 "encoding": {
  "x": {"field": "d", "type": "quantitative", "scale": {"domain": [-14, 395], "nice": false, "zero": false},
        "axis": {"title": "Distance uphill (m)", "values": [0,50,100,150,200,250,300,350], "grid": true, "titleX": 617, "titleY": 60.5, "titleBaseline": "alphabetic", "titleAlign": "center", "titleAnchor": null}},
  "y": {"field": "g", "type": "quantitative", "scale": {"domain": [-1.16, 24.64], "nice": false, "zero": false},
        "axis": {"title": "Gradient (%)", "values": [0,5,10,15,20], "grid": true, "titleAngle": -90, "titleX": -52.3, "titleY": 266, "titleBaseline": "alphabetic", "titleAlign": "center"}},
  "color": {"field": "w", "type": "nominal", "scale": {"domain": ["10 m window","25 m window","50 m window","100 m window"], "range": ["#1f77b4","#ff7f0e","#2ca02c","#d62728"]}, "legend": {"title": null}}
 }},
{"transform": [{"filter": "datum.w === '25 m window'"}],
 "mark": {"type": "line", "strokeWidth": 2.3, "strokeJoin": "round"},
 "encoding": {
  "x": {"field": "d", "type": "quantitative", "axis": null},
  "y": {"field": "g", "type": "quantitative"},
  "color": {"field": "w", "type": "nominal"}
 }},
{"transform": [{"filter": "datum.w === '50 m window'"}],
 "mark": {"type": "line", "strokeWidth": 2.3, "strokeJoin": "round"},
 "encoding": {
  "x": {"field": "d", "type": "quantitative", "axis": null},
  "y": {"field": "g", "type": "quantitative"},
  "color": {"field": "w", "type": "nominal"}
 }},
{"transform": [{"filter": "datum.w === '100 m window'"}],
 "mark": {"type": "line", "strokeWidth": 2.3, "strokeJoin": "round"},
 "encoding": {
  "x": {"field": "d", "type": "quantitative",
        "axis": {"title": "LiDAR-derived road-centreline profile (1 m DTM, bilinear) — not a surveyed asphalt gradient", "orient": "bottom", "domain": false, "ticks": false, "labels": false, "grid": false, "titleX": 1242, "titleY": 77, "titleAlign": "right", "titleBaseline": "alphabetic", "titleAnchor": null, "titleFontSize": 15.1, "titleColor": "#6b6b6b"}},
  "y": {"field": "g", "type": "quantitative"},
  "color": {"field": "w", "type": "nominal"}
 }}
],
"resolve": {"axis": {"x": "independent"}},
"config": {
 "font": "DejaVu Sans",
 "view": {"stroke": "black", "strokeWidth": 1.6},
 "axis": {"labelFont": "DejaVu Sans", "titleFont": "DejaVu Sans", "labelFontSize": 20.8, "titleFontSize": 20.8, "titleFontWeight": "normal", "labelColor": "black", "titleColor": "black", "domainColor": "black", "domainWidth": 1.6, "tickColor": "black", "tickWidth": 1.6, "tickSize": 7.3, "labelPadding": 7.3, "gridColor": "#b0b0b0", "gridOpacity": 0.3, "gridWidth": 1.2, "labelFlush": false, "labelOverlap": false},
 "legend": {"orient": "top-left", "offset": 7, "padding": 7, "symbolType": "stroke", "symbolSize": 1296, "symbolStrokeWidth": 2.3, "labelFont": "DejaVu Sans", "labelFontSize": 16.7, "labelColor": "black", "labelOffset": 10, "clipHeight": 17, "rowPadding": 7, "strokeColor": "#cccccc", "fillColor": "rgba(255,255,255,0.8)", "cornerRadius": 4, "strokeWidth": 1.2}
}
}
